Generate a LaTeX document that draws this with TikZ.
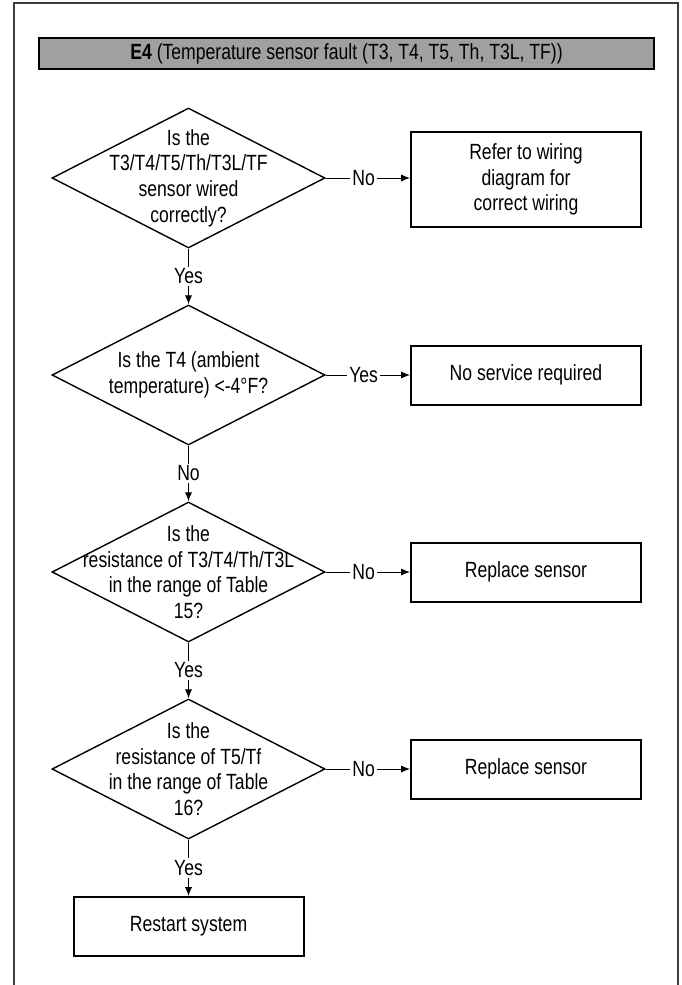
\documentclass[tikz,border=0pt]{standalone}
\usepackage{fontspec}
\setmainfont{Liberation Sans}[FakeStretch=0.8]
\usetikzlibrary{arrows.meta,positioning,shapes.geometric}
\definecolor{hdr}{HTML}{A0A0A0}
\definecolor{frame}{HTML}{3C3C3C}
\begin{document}
\begin{tikzpicture}[
    x=0.5pt, y=0.5pt,
    font=\fontsize{11}{12.8}\selectfont,
    header/.style={rectangle, draw=black, fill=hdr, line width=0.6pt,
                   minimum width=307.5pt, minimum height=15.5pt, inner sep=0pt},
    decision/.style={diamond, draw=black, line width=0.7pt,
                     minimum width=136.5pt, minimum height=70pt, inner sep=0pt},
    qtext/.style={align=center, inner sep=0pt},
    action/.style={rectangle, draw=black, line width=1pt, minimum width=115pt,
                   minimum height=#1, align=center, inner sep=2pt},
    action/.default=29.5pt,
    flow/.style={-{Latex[length=4.5pt,width=3.6pt]}, line width=0.5pt},
    tag/.style={fill=white, inner sep=1pt}
  ]
\useasboundingbox (0,0) rectangle (681,-985);

% ---------------- geometry ----------------
\def\xq{188.5}   % centre of question column
\def\xa{526}     % centre of action column
\def\yo{-178}    % first question
\def\dy{197}     % vertical pitch of questions

% ---------------- frame and header ----------------
\draw[frame, line width=0.8pt] (14,-985) -- (14,-3) -- (678,-3) -- (678,-985);
\node[header] (hd) at (346.5,-53.5)
  {\textbf{E4} (Temperature sensor fault (T3, T4, T5, Th, T3L, TF))};

% ---------------- questions ----------------
\foreach \i in {1,...,4}
  \node[decision] (q\i) at (\xq, {\yo-(\i-1)*\dy}) {};
\node[qtext] (q1t) at (q1) {Is the\\T3/T4/T5/Th/T3L/TF\\sensor wired\\correctly?};
\node[qtext] (q2t) at (q2) {Is the T4 (ambient\\temperature) <-4°F?};
\node[qtext] (q3t) at (q3) {Is the\\resistance of T3/T4/Th/T3L\\in the range of Table\\15?};
\node[qtext] (q4t) at (q4) {Is the\\resistance of T5/Tf\\in the range of Table\\16?};

% ---------------- actions ----------------
\node[action=47.5pt] (a1) at (\xa, -179.5) {Refer to wiring\\diagram for\\correct wiring};
\node[action] (a2) at (\xa, {\yo-1*\dy}) {No service required};
\node[action] (a3) at (\xa, {\yo-2*\dy}) {Replace sensor};
\node[action] (a4) at (\xa, {\yo-3*\dy}) {Replace sensor};
\node[action] (rs) at (\xq, -926.5) {Restart system};

% ---------------- connectors ----------------
\foreach \a/\b/\t in {1/2/Yes,2/3/No,3/4/Yes}
  \draw[flow] (q\a.south) -- node[tag] {\t} (q\b.north);
\draw[flow] (q4.south) -- node[tag] {Yes} (rs.north);
\foreach \i/\t in {1/No,2/Yes,3/No,4/No}
  \draw[flow] (q\i.east) -- node[tag, pos=0.45] {\t} (a\i.west |- q\i.east);

\end{tikzpicture}
\end{document}
